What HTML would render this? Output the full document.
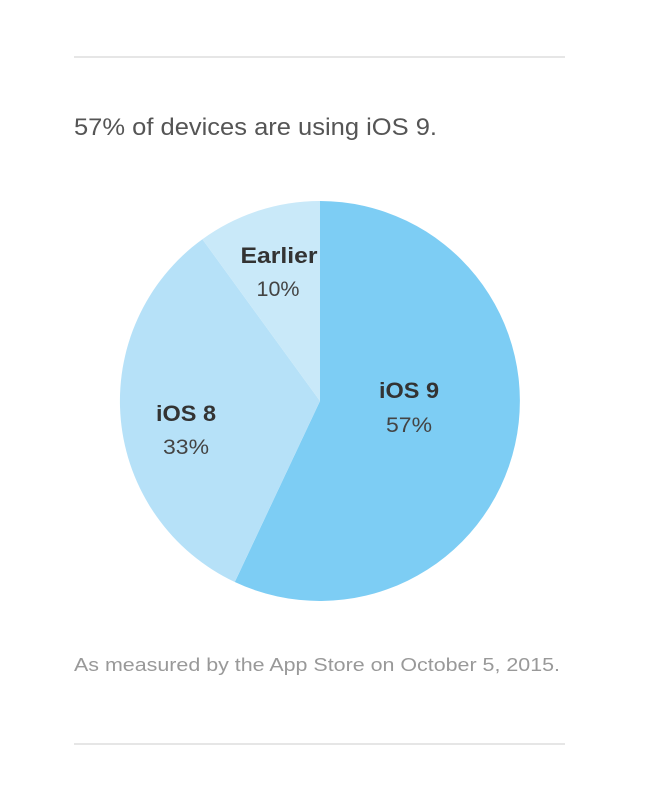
<!DOCTYPE html>
<html><head><style>
html,body{margin:0;padding:0;background:#fff;width:646px;height:796px;overflow:hidden;font-family:"Liberation Sans",sans-serif}
</style></head><body>
<svg width="646" height="796" xmlns="http://www.w3.org/2000/svg">
<rect x="74" y="56" width="491" height="2" fill="#e6e6e6"/>
<rect x="74" y="743" width="491" height="2" fill="#e6e6e6"/>
<text x="74" y="135" font-size="24" fill="#555" textLength="363" lengthAdjust="spacingAndGlyphs" font-family="Liberation Sans, sans-serif">57% of devices are using iOS 9.</text>
<path d="M320,401 L320,201 A200,200 0 1,1 234.8,582 Z" fill="#7dcdf4"/>
<path d="M320,401 L234.8,582 A200,200 0 0,1 202.4,239.2 Z" fill="#b6e1f8"/>
<path d="M320,401 L202.4,239.2 A200,200 0 0,1 320,201 Z" fill="#c9e9f9"/>
<g font-family="Liberation Sans, sans-serif" fill="#333" text-anchor="middle">
<text x="279" y="263" font-size="22" font-weight="bold" textLength="77" lengthAdjust="spacingAndGlyphs">Earlier</text>
<text x="278" y="296" font-size="21" fill="#444" textLength="43" lengthAdjust="spacingAndGlyphs">10%</text>
<text x="186" y="421" font-size="22" font-weight="bold" textLength="60" lengthAdjust="spacingAndGlyphs">iOS 8</text>
<text x="186" y="454" font-size="21" fill="#444" textLength="46" lengthAdjust="spacingAndGlyphs">33%</text>
<text x="409" y="398" font-size="22" font-weight="bold" textLength="60" lengthAdjust="spacingAndGlyphs">iOS 9</text>
<text x="409" y="432" font-size="21" fill="#444" textLength="46" lengthAdjust="spacingAndGlyphs">57%</text>
</g>
<text x="74" y="671" font-size="18" fill="#999" textLength="486" lengthAdjust="spacingAndGlyphs" font-family="Liberation Sans, sans-serif">As measured by the App Store on October 5, 2015.</text>
</svg>
</body></html>
